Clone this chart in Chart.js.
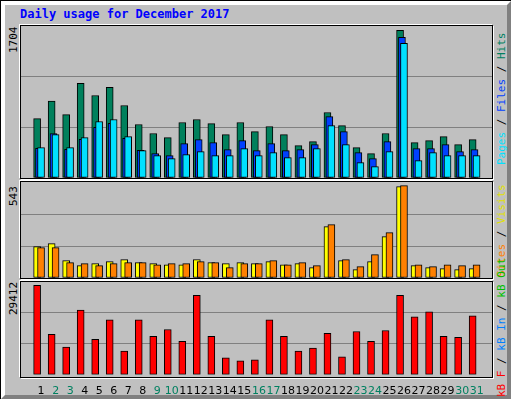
<!DOCTYPE html>
<html>
<head>
<meta charset="utf-8">
<script src="https://cdn.jsdelivr.net/npm/chart.js@4"></script>
<style>
  body { margin: 0; }
  #frame { position: relative; width: 510px; height: 398px; background: #c0c0c0;
    border-left: 1px solid #000; border-top: 1px solid #000; overflow: hidden; }
  #frame:before { content: ""; position: absolute; left: 0; top: 0; right: 0; bottom: 0;
    border-left: 4px solid #fff; border-top: 4px solid #fff; border-right: 4px solid #808080; border-bottom: 4px solid #808080; }
  .panel { position: absolute; left: 19px; width: 471px; background: #c0c0c0;
    border: 1px solid #000; box-shadow: 1px 1px 0 #fff, -1px -1px 0 #fff; }
  canvas { position: absolute; }
  .txt { position: absolute; font-family: "DejaVu Sans Mono", monospace; font-size: 11px; white-space: nowrap; }
  .rot { transform-origin: 0 0; transform: rotate(-90deg); }
</style>
</head>
<body>
<div id="frame">
  <div class="txt" style="left:19px;top:6px;color:#0000ff;font-weight:bold;font-size:12px">Daily usage for December 2017</div>
  <div class="panel" style="top:24px;height:152px"></div>
  <div class="panel" style="top:180px;height:96px"></div>
  <div class="panel" style="top:280px;height:95px"></div>
  <canvas id="c1" style="left:20px;top:25px" width="471" height="152"></canvas>
  <canvas id="c2" style="left:20px;top:181px" width="471" height="96"></canvas>
  <canvas id="c3" style="left:20px;top:281px" width="471" height="118"></canvas>
  <div class="txt rot" style="left:6px;top:52px">1704</div>
  <div class="txt rot" style="left:6px;top:205px">543</div>
  <div class="txt rot" style="left:6px;top:314px">29412</div>
  <div class="txt rot" style="left:494px;top:164px"><span style="color:#00e0ff">Pages</span> / <span style="color:#0040ff">Files</span> / <span style="color:#008060">Hits</span></div>
  <div class="txt rot" style="left:494px;top:276px"><span style="color:#ff8000">Sites</span> / <span style="color:#e0e000">Visits</span></div>
  <div class="txt rot" style="left:494px;top:396px"><span style="color:#ff0000">kB F</span> / <span style="color:#0080ff">kB In</span> / <span style="color:#00c000">kB Out</span></div>
</div>
<script>
// Days of the month
const days = Array.from({ length: 31 }, (_, i) => i + 1);
const weekend = [2, 3, 9, 10, 16, 17, 23, 24, 30, 31];

// Values
const hits = [686, 887, 732, 1091, 952, 1045, 837, 617, 513, 466, 640, 675, 628, 501, 640, 536,
  594, 501, 374, 420, 756, 605, 351, 281, 513, 1704, 409, 432, 478, 386, 443];
const files = [343, 513, 332, 447, 586, 632, 459, 320, 281, 258, 397, 443, 409, 328, 432, 316,
  397, 316, 328, 386, 709, 536, 293, 224, 420, 1623, 339, 339, 386, 305, 328];
const pages = [351, 501, 351, 466, 652, 675, 478, 316, 258, 224, 270, 305, 258, 258, 339, 258,
  293, 235, 235, 339, 605, 386, 177, 131, 305, 1554, 200, 293, 258, 258, 258];
const visits = [184, 202, 102, 73, 84, 96, 108, 90, 84, 78, 78, 108, 90, 84, 90, 84,
  96, 78, 84, 61, 302, 102, 49, 96, 243, 537, 73, 61, 55, 49, 55];
const sites = [178, 178, 90, 84, 73, 84, 90, 90, 78, 84, 84, 96, 90, 61, 84, 84,
  102, 78, 90, 73, 314, 108, 67, 137, 267, 543, 78, 67, 78, 73, 78];
const kbytes = [29412, 13262, 9091, 21283, 11658, 18075, 7807, 18075, 12620, 14866, 11016, 26096,
  12620, 5561, 4599, 4920, 18075, 12620, 7807, 8770, 13583, 5882, 14224, 11016, 14545, 26096,
  19037, 20641, 12620, 12299, 19358];

const xMin = 0.413, xMax = 31.81;

function pts(arr, off) {
  return arr.map((v, i) => ({ x: days[i] + off, y: v }));
}

function ds(arr, off, color, order) {
  return {
    data: pts(arr, off), backgroundColor: color, borderColor: '#000', borderWidth: 1,
    barThickness: 7, order: order, borderSkipped: false, grouped: false
  };
}

function opts(yMax, showX) {
  return {
    responsive: false, animation: false,
    layout: { padding: 0 },
    plugins: { legend: { display: false }, tooltip: { enabled: false } },
    scales: {
      x: {
        type: 'linear', min: xMin, max: xMax, display: showX,
        grid: { display: false }, border: { display: false },
        afterBuildTicks: axis => { axis.ticks = days.map(d => ({ value: d })); },
        ticks: {
          autoSkip: false, maxRotation: 0, labelOffset: 4, padding: 2,
          callback: v => String(v),
          font: { family: 'DejaVu Sans', size: 11 },
          color: ctx => weekend.includes(ctx.tick.value) ? '#008060' : '#000'
        }
      },
      y: {
        min: 0, max: yMax, display: true,
        ticks: { display: false, stepSize: yMax / 3 },
        grid: { color: ctx => (ctx.index === 1 || ctx.index === 2) ? '#808080' : 'rgba(0,0,0,0)', lineWidth: 1, drawTicks: false },
        border: { display: false }
      }
    }
  };
}

new Chart(document.getElementById('c1'), {
  type: 'bar',
  data: { datasets: [ds(hits, 0, '#00805c', 3), ds(files, 0.13, '#0040ff', 2), ds(pages, 0.27, '#00e0ff', 1)] },
  options: opts(1754, false)
});

new Chart(document.getElementById('c2'), {
  type: 'bar',
  data: { datasets: [ds(visits, 0, '#ffff00', 2), ds(sites, 0.27, '#ff8000', 1)] },
  options: opts(564, false)
});

new Chart(document.getElementById('c3'), {
  type: 'bar',
  data: { datasets: [ds(kbytes, 0, '#ff0000', 1)] },
  options: opts(30470, true)
});
</script>
</body>
</html>
